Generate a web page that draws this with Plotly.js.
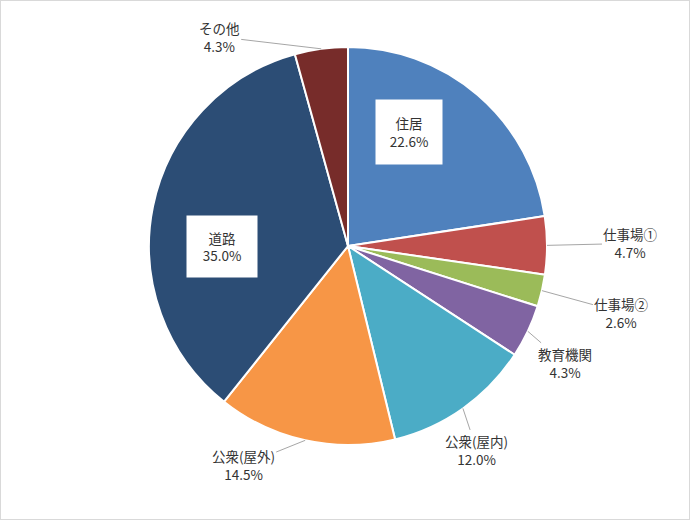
<!DOCTYPE html>
<html>
<head>
<meta charset="utf-8">
<script src="https://cdn.plot.ly/plotly-3.0.1.min.js"></script>
<style>
  html, body { margin: 0; padding: 0; background: #fff; }
  #wrap { position: relative; width: 690px; height: 520px; }
  #chart { width: 690px; height: 520px; }
  #frame { position: absolute; left: 0; top: 0; width: 690px; height: 520px;
           box-sizing: border-box; border: 1px solid #D9D9D9; pointer-events: none; }
</style>
</head>
<body>
<div id="wrap"><div id="chart"></div><div id="frame"></div></div>
<script>
// ---- data ----
const categories = ["住居", "仕事場①", "仕事場②", "教育機関", "公衆(屋内)", "公衆(屋外)", "道路", "その他"];
const values = [22.6, 4.7, 2.6, 4.3, 12.0, 14.5, 35.0, 4.3];
const colors = ["#4F81BD", "#C0504D", "#9BBB59", "#8064A2", "#4BACC6", "#F79646", "#2C4D75", "#772C2A"];

// ---- layout geometry (pixels) ----
const W = 690, H = 520;
const cx = 348, cy = 246, R = 199;
const FONT = '"Noto Sans CJK JP", "Noto Sans", sans-serif';
const TXT = "#333333";
const FS = 13.5;

const total = values.reduce((a, b) => a + b, 0);
const mids = [];
let acc = 0;
values.forEach(v => { mids.push((acc + v / 2) / total * 2 * Math.PI); acc += v; });

function px2paper(x, y) { return { x: x / W, y: 1 - y / H }; }
function label(i) { return categories[i] + "<br>" + values[i].toFixed(1) + "%"; }

const annotations = [];
// inside labels (white boxes)
const insideBoxes = { 0: { x: 409, y: 132, w: 64, h: 62 }, 6: { x: 222, y: 246, w: 68, h: 59 } };
Object.keys(insideBoxes).forEach(k => {
  const i = +k, b = insideBoxes[k], p = px2paper(b.x, b.y);
  annotations.push({
    xref: "paper", yref: "paper", x: p.x, y: p.y, xanchor: "center", yanchor: "middle",
    text: label(i), showarrow: false, bgcolor: "#FFFFFF", width: b.w, height: b.h,
    align: "center", valign: "middle", font: { family: FONT, size: FS, color: TXT }
  });
});
// outside labels with leader lines; offsets of text centre from slice edge point
const outside = { 7: [-102, -12], 1: [84, -2], 2: [80, 22], 3: [37, 32], 4: [14, 42], 5: [-62, 25] };
Object.keys(outside).forEach(k => {
  const i = +k, off = outside[k];
  const ex = cx + R * Math.sin(mids[i]), ey = cy - R * Math.cos(mids[i]);
  const p = px2paper(ex, ey);
  annotations.push({
    xref: "paper", yref: "paper", x: p.x, y: p.y, ax: off[0], ay: off[1],
    text: label(i), showarrow: true, arrowhead: 0, arrowwidth: 1, arrowcolor: "#A6A6A6",
    standoff: 0, startstandoff: 0, bgcolor: i === 4 ? "#FFFFFF" : "rgba(0,0,0,0)",
    align: "center", font: { family: FONT, size: FS, color: TXT }
  });
});

const trace = {
  type: "pie",
  labels: categories,
  values: values,
  sort: false,
  direction: "clockwise",
  rotation: 0,
  marker: { colors: colors, line: { color: "#FFFFFF", width: 2 } },
  textinfo: "none",
  hoverinfo: "label+percent",
  domain: { x: [(cx - R) / W, (cx + R) / W], y: [1 - (cy + R) / H, 1 - (cy - R) / H] }
};

const layout = {
  width: W, height: H,
  margin: { l: 0, r: 0, t: 0, b: 0 },
  showlegend: false,
  paper_bgcolor: "#FFFFFF",
  font: { family: FONT, color: TXT },
  annotations: annotations
};

Plotly.newPlot("chart", [trace], layout, { displayModeBar: false, staticPlot: true });
</script>
</body>
</html>
